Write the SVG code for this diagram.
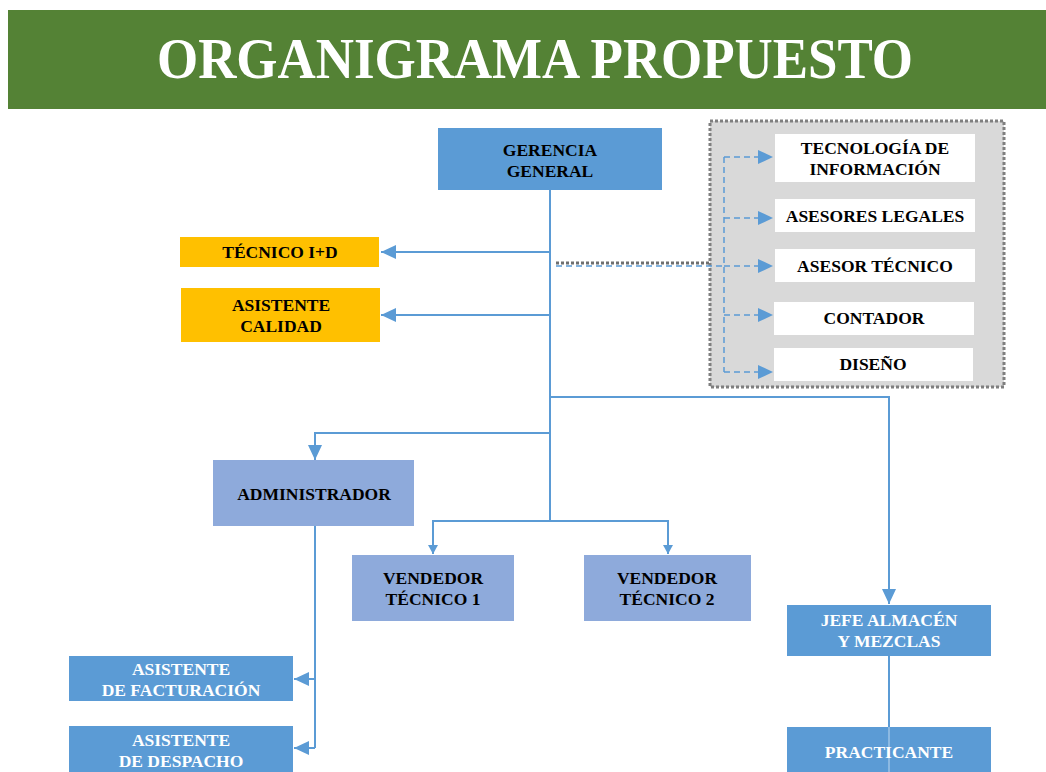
<svg xmlns="http://www.w3.org/2000/svg" width="1046" height="772" viewBox="0 0 1046 772">
<style>
.t{font-family:"Liberation Serif","DejaVu Serif",serif;font-weight:bold;font-size:17.5px;text-anchor:middle}
.dk{fill:#000}
.wt{fill:#fff}
.ln{fill:none;stroke:#5B9BD5;stroke-width:2}
.ds{fill:none;stroke:#5B9BD5;stroke-width:1.5;stroke-dasharray:6 4}
.b1{fill:#5B9BD5}
.b2{fill:#8EAADB}
.b3{fill:#FFC000}
.bw{fill:#fff}
</style>
<defs>
<marker id="ah" markerUnits="userSpaceOnUse" markerWidth="16" markerHeight="14" refX="15" refY="7" orient="auto"><path d="M0,0 L15,7 L0,14 Z" fill="#5B9BD5"/></marker>
<marker id="as" markerUnits="userSpaceOnUse" markerWidth="10" markerHeight="10" refX="9" refY="5" orient="auto"><path d="M0,0 L9,5 L0,10 Z" fill="#5B9BD5"/></marker>
</defs>
<rect width="1046" height="772" fill="#fff"/>
<g id="title">
<rect x="8" y="10" width="1038" height="99" fill="#548235"/>
<text x="535" y="78" style="font-family:'Liberation Serif','DejaVu Serif',serif;font-weight:bold;font-size:56px" fill="#fff" text-anchor="middle" textLength="756" lengthAdjust="spacingAndGlyphs">ORGANIGRAMA PROPUESTO</text>
</g>
<g id="staff-panel">
<rect x="710" y="121" width="294" height="266" fill="#D9D9D9" stroke="#7F7F7F" stroke-width="3" stroke-dasharray="3 2"/>
</g>
<g id="connectors">
<path class="ln" d="M550,190 V522"/>
<path class="ln" d="M550,252 H381" marker-end="url(#ah)"/>
<path class="ln" d="M550,315 H381" marker-end="url(#ah)"/>
<path class="ln" d="M550,397 H889 V604" marker-end="url(#ah)"/>
<path class="ln" d="M550,433 H315 V460" marker-end="url(#ah)"/>
<path class="ln" d="M550,521 H433 V554" marker-end="url(#as)"/>
<path class="ln" d="M550,521 H668 V554" marker-end="url(#as)"/>
<path class="ln" d="M315,526 V748"/>
<path class="ln" d="M315,679 H294" marker-end="url(#ah)"/>
<path class="ln" d="M315,748 H294" marker-end="url(#ah)"/>
<path class="ln" d="M889,656 V727"/>
<path d="M556,263 H710" fill="none" stroke="#6F6F6F" stroke-width="3" stroke-dasharray="3 2"/>
<path class="ds" d="M556,266 H724"/>
<path class="ds" d="M724,157 V372"/>
<path class="ds" d="M724,157 H773" marker-end="url(#ah)"/>
<path class="ds" d="M724,218 H773" marker-end="url(#ah)"/>
<path class="ds" d="M724,266 H773" marker-end="url(#ah)"/>
<path class="ds" d="M724,315 H773" marker-end="url(#ah)"/>
<path class="ds" d="M724,372 H773" marker-end="url(#ah)"/>
</g>
<g id="gerencia"><rect class="b1" x="438" y="128" width="224" height="62"/><text class="t dk" x="550" y="156">GERENCIA</text><text class="t dk" x="550" y="177">GENERAL</text></g>
<g id="tecnico-id"><rect class="b3" x="180" y="237" width="199" height="30"/><text class="t dk" x="280" y="258">TÉCNICO I+D</text></g>
<g id="asistente-calidad"><rect class="b3" x="181" y="288" width="199" height="54"/><text class="t dk" x="281" y="311">ASISTENTE</text><text class="t dk" x="281" y="332">CALIDAD</text></g>
<g id="tecnologia"><rect class="bw" x="775" y="134" width="200" height="48"/><text class="t dk" x="875" y="154">TECNOLOGÍA DE</text><text class="t dk" x="875" y="175">INFORMACIÓN</text></g>
<g id="asesores-legales"><rect class="bw" x="775" y="199" width="200" height="33"/><text class="t dk" x="875" y="222">ASESORES LEGALES</text></g>
<g id="asesor-tecnico"><rect class="bw" x="775" y="249" width="200" height="33"/><text class="t dk" x="875" y="272">ASESOR TÉCNICO</text></g>
<g id="contador"><rect class="bw" x="774" y="302" width="200" height="33"/><text class="t dk" x="874" y="324">CONTADOR</text></g>
<g id="diseno"><rect class="bw" x="774" y="348" width="199" height="33"/><text class="t dk" x="873" y="370">DISEÑO</text></g>
<g id="administrador"><rect class="b2" x="213" y="460" width="201" height="66"/><text class="t dk" x="314" y="500">ADMINISTRADOR</text></g>
<g id="vendedor1"><rect class="b2" x="352" y="555" width="162" height="66"/><text class="t dk" x="433" y="584">VENDEDOR</text><text class="t dk" x="433" y="605">TÉCNICO 1</text></g>
<g id="vendedor2"><rect class="b2" x="584" y="555" width="167" height="66"/><text class="t dk" x="667" y="584">VENDEDOR</text><text class="t dk" x="667" y="605">TÉCNICO 2</text></g>
<g id="jefe-almacen"><rect class="b1" x="787" y="605" width="204" height="51"/><text class="t wt" x="889" y="626">JEFE ALMACÉN</text><text class="t wt" x="889" y="647">Y MEZCLAS</text></g>
<g id="practicante"><rect class="b1" x="787" y="727" width="204" height="45"/><path d="M889,727 V772" stroke="#9DC3E6" stroke-width="1.5"/><text class="t wt" x="889" y="758">PRACTICANTE</text></g>
<g id="asistente-facturacion"><rect class="b1" x="69" y="656" width="224" height="45"/><text class="t wt" x="181" y="675">ASISTENTE</text><text class="t wt" x="181" y="696">DE FACTURACIÓN</text></g>
<g id="asistente-despacho"><rect class="b1" x="69" y="726" width="224" height="46"/><text class="t wt" x="181" y="746">ASISTENTE</text><text class="t wt" x="181" y="767">DE DESPACHO</text></g>
</svg>
